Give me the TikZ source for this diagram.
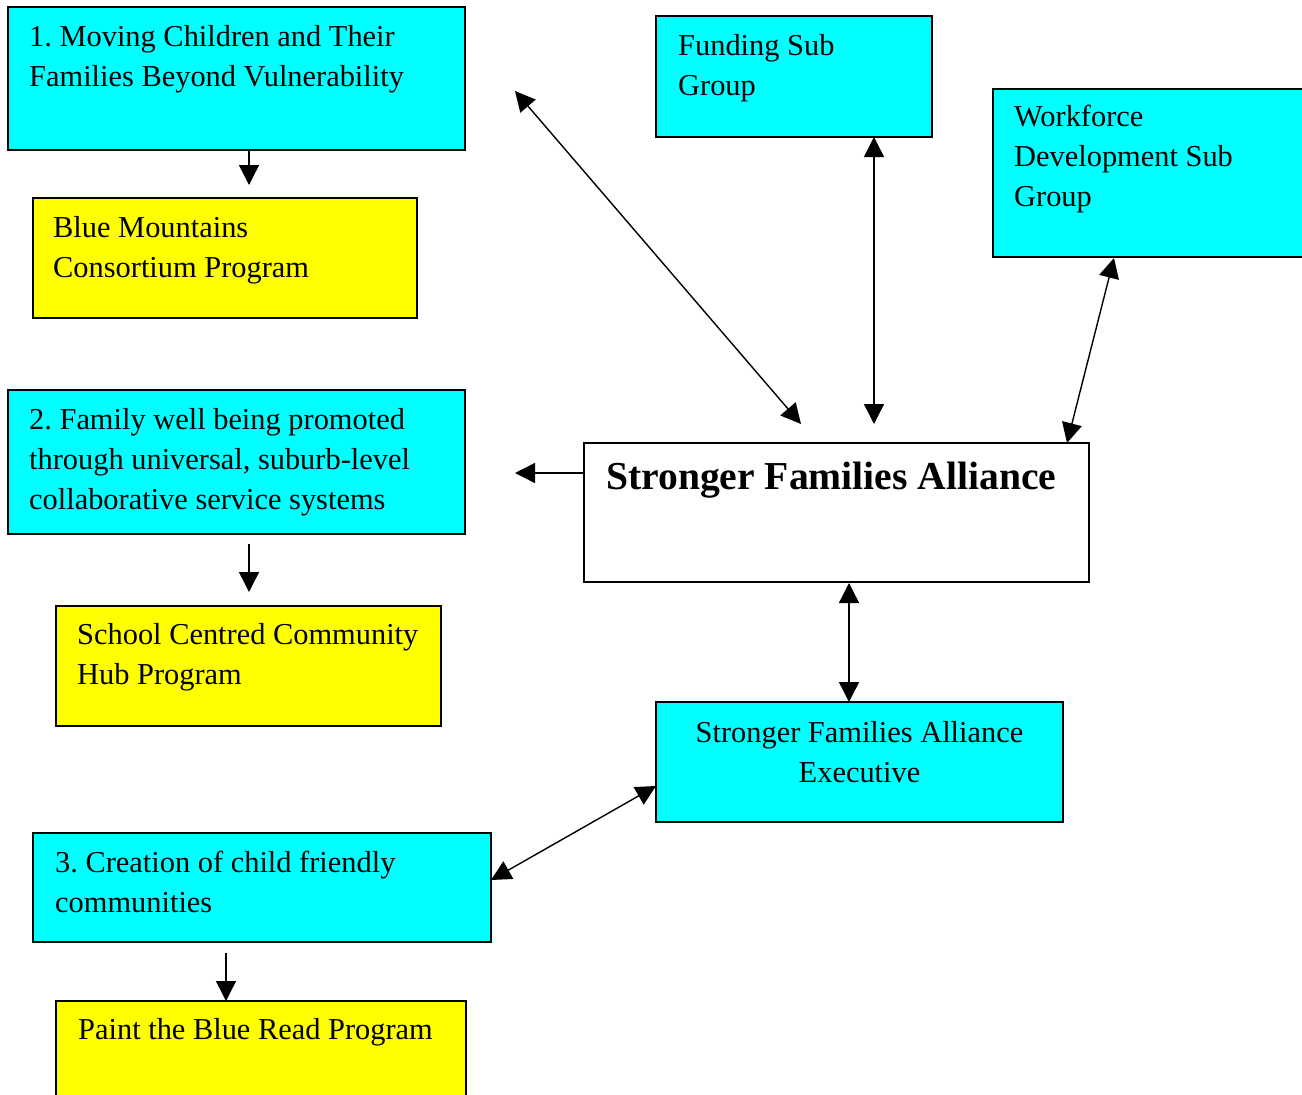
\documentclass[tikz,border=0pt]{standalone}
\usepackage{fontspec}
\setmainfont{Liberation Serif}
\usetikzlibrary{arrows.meta}
\definecolor{boxcyan}{RGB}{0,255,255}
\definecolor{boxyellow}{RGB}{255,255,0}
\newcommand{\tblock}[2]{\parbox[t]{#1}{\raggedright #2}}
\frenchspacing
\begin{document}
\frenchspacing
\begin{tikzpicture}[x=1pt,y=-1pt,
  box/.style={draw=black, line width=1.6pt, anchor=north west, inner sep=0pt, outer sep=0pt},
  cbox/.style={box, fill=boxcyan},
  ybox/.style={box, fill=boxyellow},
  wbox/.style={box, fill=white},
  txt/.style={anchor=base west, inner sep=0pt, font=\fontsize{30.4}{40}\selectfont},
  conn/.style={line width=1.4pt, -{Triangle[length=20pt,width=20pt]}},
  dconn/.style={line width=1.4pt, {Triangle[length=20pt,width=20pt]}-{Triangle[length=20pt,width=20pt]}}]
\useasboundingbox (0,0) rectangle (1302,1095);

% boxes
\node[cbox, minimum width=457pt, minimum height=143pt] (b1) at (8,7) {};
\node[ybox, minimum width=384pt, minimum height=120pt] (y1) at (33,198) {};
\node[cbox, minimum width=457pt, minimum height=144pt] (b2) at (8,390) {};
\node[ybox, minimum width=385pt, minimum height=120pt] (y2) at (56,606) {};
\node[cbox, minimum width=458pt, minimum height=109pt] (b3) at (33,833) {};
\node[ybox, minimum width=410pt, minimum height=110pt] (y3) at (56,1001) {};
\node[cbox, minimum width=276pt, minimum height=121pt] (fund) at (656,16) {};
\node[cbox, minimum width=320pt, minimum height=168pt] (work) at (993,89) {};
\node[wbox, minimum width=505pt, minimum height=139pt] (sfa) at (584,443) {};
\node[cbox, minimum width=407pt, minimum height=120pt] (exec) at (656,702) {};

% texts
\node[txt] (b1t) at (29,46) {\tblock{430pt}{1. Moving Children and Their\\Families Beyond Vulnerability}};
\node[txt] (y1t) at (53,237) {\tblock{360pt}{Blue Mountains\\Consortium Program}};
\node[txt] (b2t) at (29,429) {\tblock{430pt}{2. Family well being promoted\\through universal, suburb-level\\collaborative service systems}};
\node[txt] (y2t) at (77,644) {\tblock{360pt}{School Centred Community\\Hub Program}};
\node[txt] (b3t) at (55,872) {\tblock{430pt}{3. Creation of child friendly\\communities}};
\node[txt] (y3t) at (78,1039) {Paint the Blue Read Program};
\node[txt] (fundt) at (678,55) {\tblock{250pt}{Funding Sub\\Group}};
\node[txt] (workt) at (1014,126) {\tblock{280pt}{Workforce\\Development Sub\\Group}};
\node[anchor=base west, inner sep=0pt, font=\bfseries\fontsize{39.6}{48}\selectfont] (sfat) at (606,489) {Stronger Families Alliance};
\node[anchor=base, inner sep=0pt, font=\fontsize{30.4}{40}\selectfont] (exect) at (859.5,742) {\parbox[t]{400pt}{\centering Stronger Families Alliance\\Executive}};

% connector end points
\coordinate (a1) at (249,185);
\coordinate (a2s) at (249,544);
\coordinate (a2e) at (249,592);
\coordinate (a3s) at (226,953);
\coordinate (lft) at (515,473);
\coordinate (dg1) at (515,91);
\coordinate (dg2) at (801,424);
\coordinate (fd) at (874,424);
\coordinate (wk1) at (1114,258);
\coordinate (wk2) at (1067,443);
\coordinate (ex1) at (849,583);
\coordinate (b3e) at (491,880);
\coordinate (exl) at (656,786);

% connectors
\draw[conn] (b1.south -| a1) -- (a1);
\draw[conn] (a2s) -- (a2e);
\draw[conn] (a3s) -- (y3.north -| a3s);
\draw[conn] (sfa.west |- lft) -- (lft);
\draw[dconn] (dg1) -- (dg2);
\draw[dconn] (fund.south -| fd) -- (fd);
\draw[dconn] (wk1) -- (wk2);
\draw[dconn] (ex1) -- (exec.north -| ex1);
\draw[dconn] (b3e) -- (exl);
\end{tikzpicture}
\end{document}
